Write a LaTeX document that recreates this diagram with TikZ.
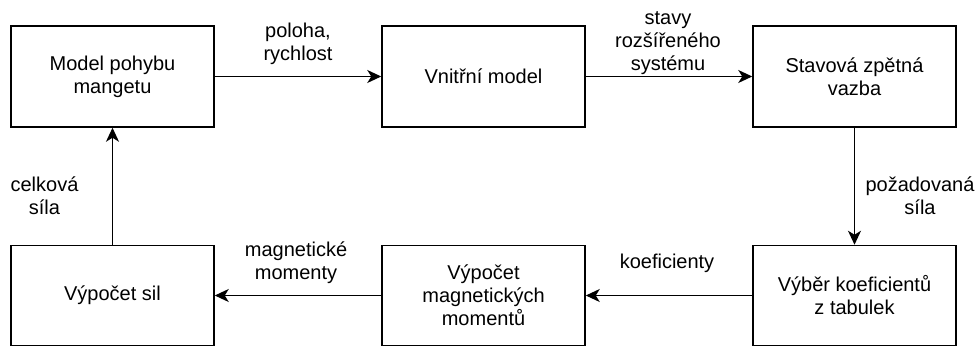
\documentclass[tikz,border=0pt]{standalone}
\usepackage{fontspec}
\setmainfont{Liberation Sans}
\usetikzlibrary{arrows.meta}
\begin{document}
\begin{tikzpicture}[x=1pt,y=-1pt,
  font=\fontsize{20}{23}\selectfont,
  block/.style={draw=black, line width=1.5pt, minimum width=203pt, minimum height=101pt,
    align=center, inner sep=0pt, text=black},
  flow/.style={draw=black, line width=1.5pt,
    -{Stealth[length=14pt,width=13pt,inset=4pt]}},
  lbl/.style={align=center, inner sep=0pt, text=black}]
  \useasboundingbox (0,0) rectangle (980,347);

  % top row
  \node[block] (model) at (112.5,76.5) {Model pohybu\\mangetu};
  \node[block] (vnitrni) at (483.5,76.5) {Vnitřní model};
  \node[block] (zpetna) at (854.5,76.5) {Stavová zpětná\\vazba};

  % bottom row
  \node[block, minimum height=100pt] (sily) at (112.5,295.5) {Výpočet sil};
  \node[block, minimum height=100pt] (momenty) at (483.5,295.5) {Výpočet\\magnetických\\momentů};
  \node[block, minimum height=100pt] (vyber) at (854.5,295.5) {Výběr koeficientů\\z tabulek};

  % connectors
  \draw[flow] (model) -- (vnitrni);
  \draw[flow] (vnitrni) -- (zpetna);
  \draw[flow] (zpetna) -- (vyber);
  \draw[flow] (vyber) -- (momenty);
  \draw[flow] (momenty) -- (sily);
  \draw[flow] (sily) -- (model);

  % connector labels
  \node[lbl] (l1) at (298,44) {poloha,\\rychlost};
  \node[lbl] (l2) at (668,43.5) {stavy\\rozšířeného\\systému};
  \node[lbl] (l3) at (920,196) {požadovaná\\síla};
  \node[lbl] (l4) at (667,263) {koeficienty};
  \node[lbl] (l5) at (296,262.5) {magnetické\\momenty};
  \node[lbl] (l6) at (44.5,196) {celková\\síla};
\end{tikzpicture}
\end{document}
